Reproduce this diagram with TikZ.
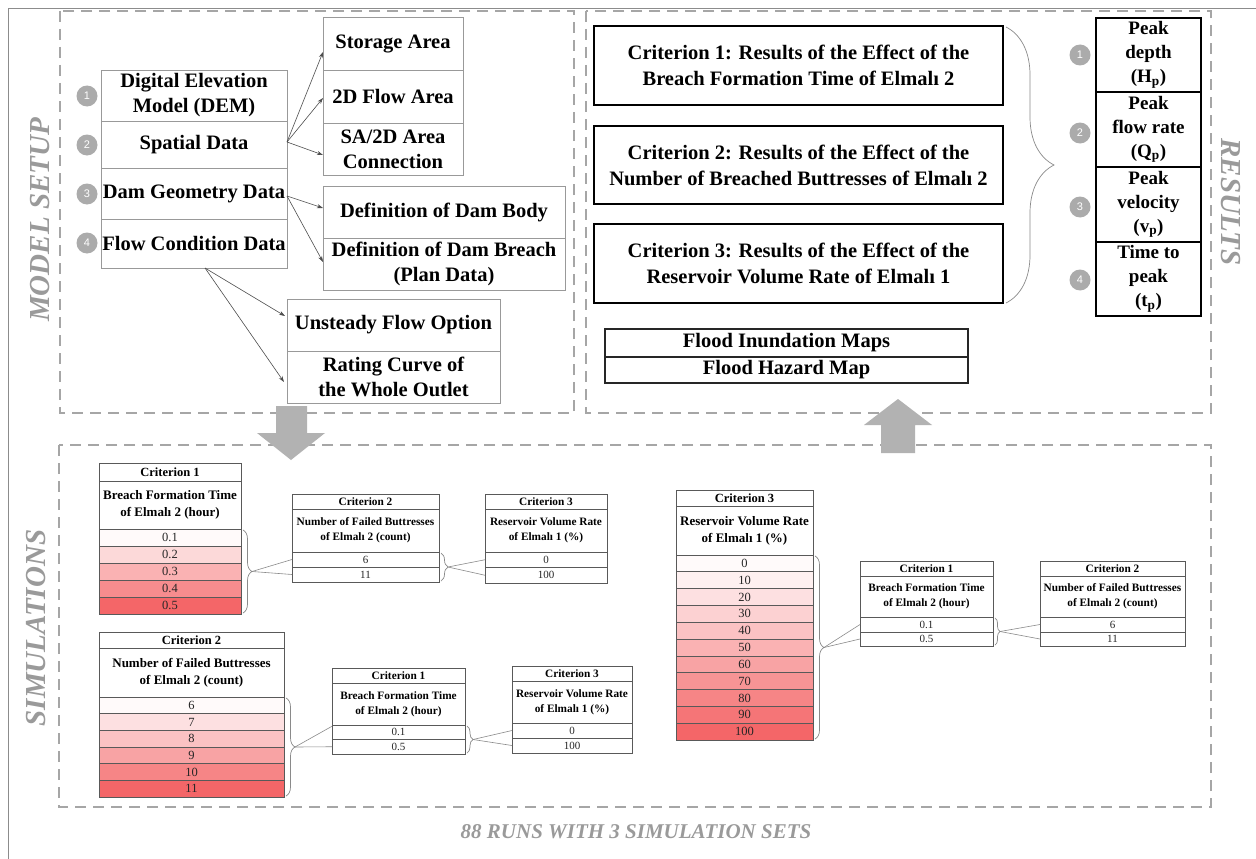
\documentclass[tikz,border=0pt]{standalone}
\usepackage{fontspec}
\setmainfont{Liberation Serif}
\newfontfamily\numfont{Liberation Sans}
\usetikzlibrary{decorations.pathreplacing,calc,arrows.meta}

\definecolor{dashgray}{HTML}{A6A6A6}
\definecolor{lblgray}{HTML}{9A9A9A}
\definecolor{circgray}{HTML}{ABABAB}
\definecolor{rbase}{HTML}{F46668}
\definecolor{linegray}{HTML}{8A8A8A}

\newcommand\fs[2]{\fontsize{#1}{#2}\selectfont}
% name, x1, y1, x2, y2, style, text
\newcommand\cellbox[7]{\node[#6, minimum width={#4pt-#2pt}, minimum height={#5pt-#3pt}, anchor=north west] (#1) at (#2,#3) {#7};}

\begin{document}
\begin{tikzpicture}[x=1pt,y=-1pt,
  mbox/.style={draw=black!40, line width=0.8pt, inner sep=0pt, outer sep=0pt, align=center, font=\bfseries\fs{20.5}{25}},
  crit/.style={draw=black, line width=1.4pt, inner sep=0pt, outer sep=0pt, align=center, font=\bfseries\fs{20.5}{26}},
  peak/.style={draw=black, line width=1.1pt, inner sep=0pt, outer sep=0pt, align=center, font=\bfseries\fs{19}{24}},
  flood/.style={draw=black!85, line width=1.1pt, inner sep=0pt, outer sep=0pt, align=center, font=\bfseries\fs{20.5}{24}},
  numc/.style={circle, fill=circgray, minimum size=21pt, inner sep=0pt, text=white, font=\numfont\fs{11}{11}},
  frame/.style={draw=dashgray, line width=2.4pt, dash pattern=on 11pt off 7pt},
  vlabel/.style={text=lblgray, font=\bfseries\itshape\fs{29}{29}},
  tcell/.style={draw=black!65, line width=0.7pt, inner sep=0pt, outer sep=0pt, align=center},
  bhead/.style={font=\bfseries\fs{12.5}{14}},
  btitle/.style={font=\bfseries\fs{13}{17}},
  bval/.style={font=\fs{12.5}{13}, text=black!85},
  shead/.style={font=\bfseries\fs{11.3}{13}},
  stitle/.style={font=\bfseries\fs{11.3}{15}},
  sval/.style={font=\fs{11}{12}, text=black!85},
  con/.style={draw=black!70, line width=0.6pt, -{Stealth[length=6pt,width=4pt]}},
  lnk/.style={draw=linegray, line width=0.6pt},
  brc/.style={draw=linegray, line width=0.7pt, decorate, decoration={brace, amplitude=#1}},
  blk/.style={fill=black!30, draw=none}
]
\useasboundingbox (0,0) rectangle (1256,859);
\fill[white] (0,0) rectangle (1256,859);

% outer frame
\draw[black!45, line width=0.9pt] (1256,8) -- (8,8) -- (8,859);

% dashed section frames
\draw[frame] (60,11) rectangle (574,413);
\draw[frame] (586,11) rectangle (1211,413);
\draw[frame] (59,445) rectangle (1211,807);

% section labels
\node[vlabel, rotate=90] (lmodel) at (40,220) {MODEL SETUP};
\node[vlabel, rotate=-90] (lres) at (1231,202) {RESULTS};
\node[vlabel, rotate=90] (lsim) at (36,628) {SIMULATIONS};
\node[text=lblgray, font=\bfseries\itshape\fs{21}{21}] (lruns) at (636,832) {88 RUNS WITH 3 SIMULATION SETS};

% ===== MODEL SETUP =====
\cellbox{dem}{101}{70}{287}{121}{mbox}{Digital Elevation\\Model (DEM)}
\cellbox{spatial}{101}{121}{287}{168}{mbox}{Spatial Data}
\cellbox{damgeo}{101}{168}{287}{219}{mbox}{Dam Geometry Data}
\cellbox{flow}{101}{219}{287}{268}{mbox}{Flow Condition Data}
\node[numc] (n1) at (87,96) {1};
\node[numc] (n2) at (87,145) {2};
\node[numc] (n3) at (87,194) {3};
\node[numc] (n4) at (87,243) {4};

\cellbox{storage}{323}{17}{463}{70}{mbox}{Storage Area}
\cellbox{twod}{323}{70}{463}{123}{mbox}{2D Flow Area}
\cellbox{sa2d}{323}{123}{463}{175}{mbox}{SA/2D Area\\Connection}
\cellbox{body}{323}{186}{565}{238}{mbox}{Definition of Dam Body}
\cellbox{breach}{323}{238}{565}{290}{mbox}{Definition of Dam Breach\\(Plan Data)}
\cellbox{unsteady}{287}{299}{500}{351}{mbox}{Unsteady Flow Option}
\cellbox{rating}{287}{351}{500}{403}{mbox}{Rating Curve of\\the Whole Outlet}

\draw[con] ([yshift=2.5pt]spatial.east) -- ([yshift=-8.5pt]storage.west);
\draw[con] ([yshift=2.5pt]spatial.east) -- ([yshift=-1.5pt]twod.west);
\draw[con] ([yshift=2.5pt]spatial.east) -- ([yshift=-6pt]sa2d.west);
\draw[con] ([yshift=-2.5pt]damgeo.east) -- ([yshift=4pt]body.west);
\draw[con] ([yshift=-2.5pt]damgeo.east) -- ([yshift=2pt]breach.west);
\draw[con] ([xshift=11pt]flow.south) -- ([xshift=-2pt,yshift=9pt]unsteady.west);
\draw[con] ([xshift=11pt]flow.south) -- ([xshift=-3pt,yshift=-5pt]rating.west);

% ===== RESULTS =====
\cellbox{c1}{594}{26}{1003}{105}{crit}{Criterion 1: Results of the Effect of the\\Breach Formation Time of Elmalı 2}
\cellbox{c2}{594}{126}{1003}{204}{crit}{Criterion 2: Results of the Effect of the\\Number of Breached Buttresses of Elmalı 2}
\cellbox{c3}{594}{224}{1003}{303}{crit}{Criterion 3: Results of the Effect of the\\Reservoir Volume Rate of Elmalı 1}
\draw[brc=48pt] (1006,27) -- (1006,303);

\cellbox{p1}{1096}{18}{1201}{92}{peak}{Peak\\depth\\(H\textsubscript{p})}
\cellbox{p2}{1096}{92}{1201}{167}{peak}{Peak\\flow rate\\(Q\textsubscript{p})}
\cellbox{p3}{1096}{167}{1201}{242}{peak}{Peak\\velocity\\(v\textsubscript{p})}
\cellbox{p4}{1096}{242}{1201}{316}{peak}{Time to\\peak\\(t\textsubscript{p})}
\node[numc] (m1) at (1080,55) {1};
\node[numc] (m2) at (1080,133) {2};
\node[numc] (m3) at (1080,207) {3};
\node[numc] (m4) at (1080,280) {4};

\cellbox{fim}{605}{329}{968}{357}{flood}{Flood Inundation Maps}
\cellbox{fhm}{605}{357}{968}{383}{flood}{Flood Hazard Map}

% block arrows
\fill[blk] (276,406) -- (307,406) -- (307,433) -- (325,433) -- (291,460) -- (257,433) -- (276,433) -- cycle;
\fill[blk] (881,453) -- (915,453) -- (915,425) -- (932,425) -- (898,399) -- (864,425) -- (881,425) -- cycle;

% ===== SIMULATIONS =====
% --- Set 1: Criterion 1 ---
\cellbox{Ah}{99}{463}{241}{481}{tcell,bhead}{Criterion 1}
\cellbox{At}{99}{481}{241}{529}{tcell,btitle}{Breach Formation Time\\of Elmalı 2 (hour)}
\foreach \v [count=\i from 0, evaluate=\i as \yt using 529+17*\i, evaluate=\i as \yb using 546+17*\i, evaluate=\i as \p using {\i==0 ? 3 : 25*\i}] in {0.1,0.2,0.3,0.4,0.5}
  {\cellbox{A\i}{99}{\yt}{241}{\yb}{tcell,bval,fill=rbase!\p!white}{\v}}
\draw[brc=9pt] (243,530) -- (243,613);
\coordinate (tA) at (252,571.5);

\cellbox{Bh}{292}{494}{439}{509}{tcell,shead}{Criterion 2}
\cellbox{Bt}{292}{509}{439}{552}{tcell,stitle}{Number of Failed Buttresses\\of Elmalı 2 (count)}
\cellbox{B0}{292}{552}{439}{567}{tcell,sval}{6}
\cellbox{B1}{292}{567}{439}{582}{tcell,sval}{11}
\draw[brc=7pt] (441,553) -- (441,581);
\coordinate (tB) at (448,567);

\cellbox{Ch}{485}{494}{607}{509}{tcell,shead}{Criterion 3}
\cellbox{Ct}{485}{509}{607}{552}{tcell,stitle}{Reservoir Volume Rate\\of Elmalı 1 (\%)}
\cellbox{C0}{485}{552}{607}{567.5}{tcell,sval}{0}
\cellbox{C1}{485}{567.5}{607}{583}{tcell,sval}{100}

\draw[lnk] (tA) -- (B0.west);
\draw[lnk] (tA) -- (B1.west);
\draw[lnk] (tB) -- (C0.west);
\draw[lnk] (tB) -- (C1.west);

% --- Set 2: Criterion 2 ---
\cellbox{Dh}{99}{632}{284}{648}{tcell,bhead}{Criterion 2}
\cellbox{Dt}{99}{648}{284}{697}{tcell,btitle}{Number of Failed Buttresses\\of Elmalı 2 (count)}
\foreach \v [count=\i from 0, evaluate=\i as \yt using 697+16.67*\i, evaluate=\i as \yb using 713.67+16.67*\i, evaluate=\i as \p using {\i==0 ? 3 : 20*\i}] in {6,7,8,9,10,11}
  {\cellbox{D\i}{99}{\yt}{284}{\yb}{tcell,bval,fill=rbase!\p!white}{\v}}
\draw[brc=9pt] (286,698) -- (286,796);
\coordinate (tD) at (295,747);

\cellbox{Eh}{332}{668}{465}{683}{tcell,shead}{Criterion 1}
\cellbox{Et}{332}{683}{465}{725}{tcell,stitle}{Breach Formation Time\\of Elmalı 2 (hour)}
\cellbox{E0}{332}{725}{465}{739.5}{tcell,sval}{0.1}
\cellbox{E1}{332}{739.5}{465}{754}{tcell,sval}{0.5}
\draw[brc=6pt] (467,726) -- (467,753);
\coordinate (tE) at (473,739.5);

\cellbox{Fh}{512}{666}{632}{681}{tcell,shead}{Criterion 3}
\cellbox{Ft}{512}{681}{632}{723}{tcell,stitle}{Reservoir Volume Rate\\of Elmalı 1 (\%)}
\cellbox{F0}{512}{723}{632}{738}{tcell,sval}{0}
\cellbox{F1}{512}{738}{632}{753}{tcell,sval}{100}

\draw[lnk] (tD) -- ([yshift=6pt]E0.west);
\draw[lnk] (tD) -- (E1.west);
\draw[lnk] (tE) -- (F0.west);
\draw[lnk] (tE) -- (F1.west);

% --- Set 3: Criterion 3 ---
\cellbox{Gh}{676}{490}{813}{506}{tcell,bhead}{Criterion 3}
\cellbox{Gt}{676}{506}{813}{555}{tcell,btitle}{Reservoir Volume Rate\\of Elmalı 1 (\%)}
\foreach \v [count=\i from 0, evaluate=\i as \yt using 555+16.82*\i, evaluate=\i as \yb using 571.82+16.82*\i, evaluate=\i as \p using {\i==0 ? 3 : 10*\i}] in {0,10,20,30,40,50,60,70,80,90,100}
  {\cellbox{G\i}{676}{\yt}{813}{\yb}{tcell,bval,fill=rbase!\p!white}{\v}}
\draw[brc=9pt] (815,556) -- (815,739);
\coordinate (tG) at (824,647.5);

\cellbox{Hh}{860}{561}{993}{576}{tcell,shead}{Criterion 1}
\cellbox{Ht}{860}{576}{993}{617}{tcell,stitle}{Breach Formation Time\\of Elmalı 2 (hour)}
\cellbox{H0}{860}{617}{993}{632}{tcell,sval}{0.1}
\cellbox{H1}{860}{632}{993}{646}{tcell,sval}{0.5}
\draw[brc=5pt] (995,618) -- (995,645);
\coordinate (tH) at (1000,631.5);

\cellbox{Ih}{1040}{561}{1185}{576}{tcell,shead}{Criterion 2}
\cellbox{It}{1040}{576}{1185}{617}{tcell,stitle}{Number of Failed Buttresses\\of Elmalı 2 (count)}
\cellbox{I0}{1040}{617}{1185}{632}{tcell,sval}{6}
\cellbox{I1}{1040}{632}{1185}{646}{tcell,sval}{11}

\draw[lnk] (tG) -- (H0.west);
\draw[lnk] (tG) -- (H1.west);
\draw[lnk] (tH) -- (I0.west);
\draw[lnk] (tH) -- (I1.west);
\end{tikzpicture}
\end{document}
